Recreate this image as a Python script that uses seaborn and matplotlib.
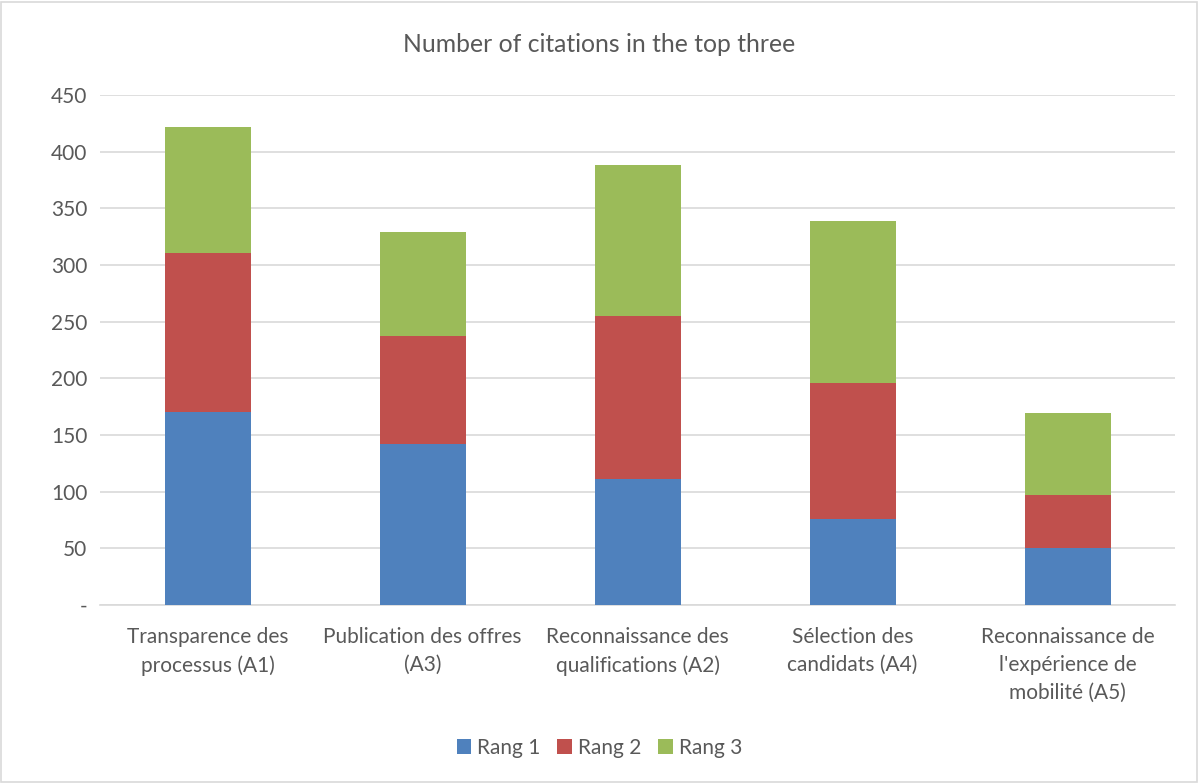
"""Stacked bar chart: number of citations in the top three."""
# %%
import pandas as pd
import seaborn as sns
import matplotlib.pyplot as plt
from matplotlib.patches import Patch, Rectangle

# %%
categories = [
    "Transparence des\nprocessus (A1)",
    "Publication des offres\n(A3)",
    "Reconnaissance des\nqualifications (A2)",
    "Sélection des\ncandidats (A4)",
    "Reconnaissance de\nl'expérience de\nmobilité (A5)",
]
rang1 = [170, 142, 111, 76, 50]
rang2 = [141, 95, 144, 120, 47]
rang3 = [111, 92, 133, 143, 72]
series_names = ["Rang 1", "Rang 2", "Rang 3"]
colors = ["#4F81BD", "#C0504D", "#9BBB59"]
y_ticks = [0, 50, 100, 150, 200, 250, 300, 350, 400, 450]
y_tick_labels = ["-", "50", "100", "150", "200", "250", "300", "350", "400", "450"]

# %%
df = pd.DataFrame({"cat": categories, "Rang 1": rang1, "Rang 2": rang2, "Rang 3": rang3})
df["c1"] = df["Rang 1"]
df["c2"] = df["c1"] + df["Rang 2"]
df["c3"] = df["c2"] + df["Rang 3"]

sns.set_style("white")
plt.rcParams["font.family"] = ["Lato", "DejaVu Sans"]
text_col = "#595959"

fig = plt.figure(figsize=(11.99, 7.83), dpi=100)
ax = fig.add_axes([100 / 1199, 1 - 605 / 783, 1075 / 1199, 510 / 783])

# draw cumulative totals, tallest first, so each segment shows
for col, color in zip(["c3", "c2", "c1"], colors[::-1]):
    sns.barplot(data=df, x="cat", y=col, color=color, width=0.4,
                saturation=1, linewidth=0, ax=ax, zorder=3)

ax.set_ylim(0, 450)
ax.set_xlim(-0.5, len(categories) - 0.5)
ax.set_yticks(y_ticks)
ax.set_yticklabels(y_tick_labels)
ax.yaxis.grid(True, color="#D9D9D9", linewidth=1.2, zorder=0)
ax.set_axisbelow(True)
for s in ["top", "right", "left"]:
    ax.spines[s].set_visible(False)
ax.spines["bottom"].set_color("#D9D9D9")
ax.spines["bottom"].set_linewidth(1.2)
ax.tick_params(axis="both", length=0, labelsize=15, labelcolor=text_col)
ax.tick_params(axis="x", pad=16)
ax.tick_params(axis="y", pad=9)
for lab in ax.get_xticklabels():
    lab.set_linespacing(1.5)
ax.set_xlabel("")
ax.set_ylabel("")

fig.text(0.5, 1 - 45 / 783, "Number of citations in the top three",
         ha="center", va="center", fontsize=17.8, color=text_col)

handles = [Patch(facecolor=c, edgecolor="none") for c in colors]
fig.legend(handles, series_names, loc="center", bbox_to_anchor=(0.5, 1 - 748 / 783),
           ncol=3, frameon=False, fontsize=15, labelcolor=text_col,
           handlelength=0.7, handleheight=0.7, handletextpad=0.3, columnspacing=0.8)

fig.patches.append(Rectangle((1 / 1199, 1 / 783), 1196 / 1199, 780 / 783,
                             transform=fig.transFigure, fill=False,
                             edgecolor="#D9D9D9", linewidth=1.2))

plt.savefig("out.png", dpi=100)
